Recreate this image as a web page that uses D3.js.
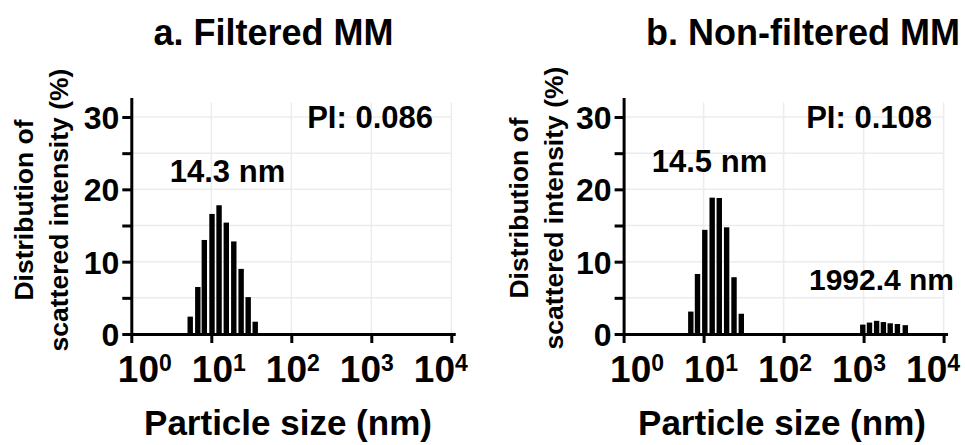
<!DOCTYPE html>
<html>
<head>
<meta charset="utf-8">
<script src="https://cdn.jsdelivr.net/npm/d3@7"></script>
<style>
  body { margin: 0; background: #fff; }
  svg text { font-family: "Liberation Sans", Arial, sans-serif; font-weight: bold; fill: #000; }
</style>
</head>
<body>
<svg id="chart" width="965" height="445"></svg>
<script>
// Panel a: filtered MM (size in nm, intensity in %)
var sizesA = [5.45, 6.78, 8.18, 10.2, 12.5, 15.4, 19.1, 23.6, 28.9, 35.4];
var intensityA = [2.4, 6.5, 13.0, 16.6, 17.8, 15.4, 12.8, 9.0, 5.1, 1.7];

// Panel b: non-filtered MM
var sizesB = [6.92, 8.39, 10.35, 12.8, 15.7, 19.4, 24.0, 29.6, 977, 1185, 1454, 1768, 2150, 2646, 3319];
var intensityB = [3.1, 8.3, 14.4, 18.85, 18.8, 14.75, 7.85, 2.8, 1.3, 1.58, 1.82, 1.65, 1.48, 1.38, 1.22];

// Axes
var xTicks = [1, 10, 100, 1000, 10000];
var xTickExp = ['0', '1', '2', '3', '4'];
var yTicks = [0, 5, 10, 15, 20, 25, 30];
var yLabelled = [0, 10, 20, 30];
var gridY = [5, 10, 15, 20, 25, 30];

var titles = ['a. Filtered MM', 'b. Non-filtered MM'];
var piLabels = ['PI: 0.086', 'PI: 0.108'];
var peakLabels = [['14.3 nm'], ['14.5 nm', '1992.4 nm']];

// layout
var Y0 = 334, UNIT = 7.233, DECADE = 80, BAR_W = 5.4, YMAX = 32.7;
var LABEL_STEP = 74, LABEL_OFF = 13.5;   // tick labels sit a bit tighter than the ticks
var svg = d3.select('#chart');
var y = d3.scaleLinear().domain([0, YMAX]).range([Y0, Y0 - YMAX * UNIT]);

var panels = [
  { left: 131.3, sizes: sizesA, vals: intensityA, title: titles[0], titleX: 273.5,
    pi: piLabels[0], piX: 433, xTitleX: 288, yTitleX: [33, 68], yTitleY: 210,
    peaks: [{ t: peakLabels[0][0], x: 227.5, y: 182, fs: 31 }] },
  { left: 623.6, sizes: sizesB, vals: intensityB, title: titles[1], titleX: 803,
    pi: piLabels[1], piX: 932, xTitleX: 782, yTitleX: [528, 563], yTitleY: 208,
    peaks: [{ t: peakLabels[1][0], x: 709.5, y: 172, fs: 31 },
            { t: peakLabels[1][1], x: 881.5, y: 290, fs: 30 }] }
];

function drawPanel(p) {
  var x = d3.scaleLog().domain([1, 1e4]).range([p.left, p.left + 4 * DECADE]);
  var xAx = d3.scaleLog().domain([1, 1.12e4]).range([x(1), x(1.12e4)]);
  var xLab = d3.scaleLog().domain([1, 1e4]).range([p.left + LABEL_OFF, p.left + LABEL_OFF + 4 * LABEL_STEP]);
  var g = svg.append('g');

  // grid
  g.selectAll('.hg').data(gridY).enter().append('line')
    .attr('x1', x(1)).attr('x2', x(1e4))
    .attr('y1', d => y(d)).attr('y2', d => y(d))
    .attr('stroke', '#ececec').attr('stroke-width', 1.5);
  g.selectAll('.vg').data(xTicks.slice(1)).enter().append('line')
    .attr('x1', d => x(d)).attr('x2', d => x(d))
    .attr('y1', Y0).attr('y2', y(32))
    .attr('stroke', '#ececec').attr('stroke-width', 1.5);

  // bars
  g.selectAll('.bar').data(p.sizes).enter().append('rect')
    .attr('x', d => x(d) - BAR_W / 2).attr('width', BAR_W)
    .attr('y', (d, i) => y(p.vals[i]))
    .attr('height', (d, i) => Y0 - y(p.vals[i]))
    .attr('fill', '#000');

  // x axis
  var gx = g.append('g').attr('transform', 'translate(0,' + Y0 + ')')
    .call(d3.axisBottom(xAx).tickValues(xTicks).tickSize(9).tickSizeOuter(0).tickFormat(''));
  gx.selectAll('path, line').attr('stroke', '#000').attr('stroke-width', 3);
  xTicks.forEach(function(v, i) {
    var t = g.append('text').attr('x', xLab(v)).attr('y', 382)
      .attr('text-anchor', 'middle').style('font-size', '37px');
    t.append('tspan').text('10');
    t.append('tspan').attr('dy', -11).style('font-size', '23px').text(xTickExp[i]);
  });

  // y axis
  var gy = g.append('g').attr('transform', 'translate(' + x(1) + ',0)')
    .call(d3.axisLeft(y).tickValues(yTicks).tickSize(9).tickSizeOuter(0)
      .tickFormat(d => yLabelled.indexOf(d) >= 0 ? d : ''));
  gy.selectAll('path, line').attr('stroke', '#000').attr('stroke-width', 3);
  gy.selectAll('text').style('font-size', '32px').attr('dy', '0.36em').attr('x', -12);

  // titles and labels
  svg.append('text').attr('x', p.titleX).attr('y', 45).attr('text-anchor', 'middle')
    .style('font-size', '36px').text(p.title);
  svg.append('text').attr('x', p.piX).attr('y', 128).attr('text-anchor', 'end')
    .style('font-size', '31px').text(p.pi);
  p.peaks.forEach(function(k) {
    svg.append('text').attr('x', k.x).attr('y', k.y).attr('text-anchor', 'middle')
      .style('font-size', k.fs + 'px').text(k.t);
  });
  svg.append('text').attr('x', p.xTitleX).attr('y', 435).attr('text-anchor', 'middle')
    .style('font-size', '35px').text('Particle size (nm)');
  ['Distribution of', 'scattered intensity (%)'].forEach(function(s, i) {
    svg.append('text')
      .attr('transform', 'translate(' + p.yTitleX[i] + ',' + p.yTitleY + ') rotate(-90)')
      .attr('text-anchor', 'middle').style('font-size', '26.5px').text(s);
  });
}

panels.forEach(drawPanel);
</script>
</body>
</html>
